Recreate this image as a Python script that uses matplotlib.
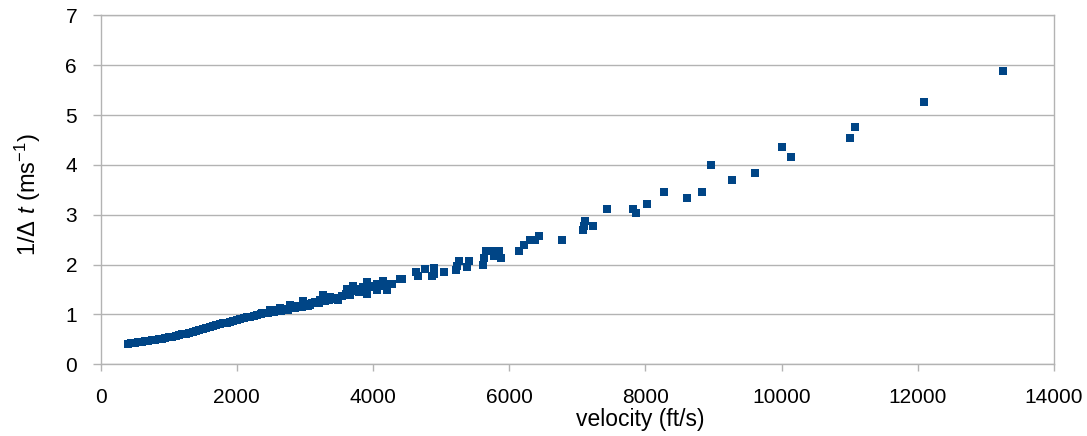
import numpy as np
import matplotlib
matplotlib.use("Agg")
import matplotlib.pyplot as plt

# ── Data ──────────────────────────────────────────────────────
# dense low-velocity band
v_dense = [400, 450, 500, 550, 600, 650, 700, 750, 800, 850, 900, 950,
           1000, 1050, 1100, 1150, 1200, 1250, 1300, 1350, 1400, 1450,
           1500, 1550, 1600, 1650, 1700, 1750, 1800, 1850, 1900, 1950,
           2000, 2050, 2100, 2150, 2200, 2250, 2300]
r_dense = [0.41, 0.42, 0.43, 0.44, 0.45, 0.46, 0.47, 0.48, 0.49, 0.50, 0.51, 0.525,
           0.54, 0.555, 0.57, 0.585, 0.60, 0.615, 0.635, 0.65, 0.67, 0.69,
           0.71, 0.73, 0.75, 0.765, 0.78, 0.80, 0.82, 0.835, 0.85, 0.87,
           0.89, 0.905, 0.92, 0.94, 0.955, 0.97, 0.99]

# scattered points, 2300-4400 ft/s
v_mid = [2350, 2364, 2400, 2450, 2486, 2500, 2550, 2600, 2633, 2650, 2700, 2750,
         2780, 2800, 2850, 2900, 2950, 2975, 3000, 3050, 3073, 3100, 3150, 3200,
         3220, 3269, 3300, 3350, 3367, 3400, 3450, 3489, 3550, 3600, 3612, 3661,
         3700, 3709, 3750, 3800, 3850, 3906, 3906, 3950, 4000, 4053, 4053, 4100,
         4150, 4200, 4224, 4273, 4395]
r_mid = [1.00, 1.02, 1.03, 1.02, 1.09, 1.05, 1.04, 1.08, 1.12, 1.07, 1.10, 1.09,
         1.19, 1.13, 1.12, 1.16, 1.14, 1.26, 1.20, 1.17, 1.19, 1.22, 1.25, 1.23,
         1.29, 1.39, 1.28, 1.30, 1.36, 1.32, 1.34, 1.29, 1.38, 1.42, 1.52, 1.39,
         1.47, 1.57, 1.52, 1.45, 1.56, 1.66, 1.42, 1.58, 1.55, 1.62, 1.49, 1.57,
         1.68, 1.49, 1.62, 1.62, 1.72]

# sparse high-velocity points
v_high = [4420, 4630, 4655, 4762, 4860, 4899, 4890, 5041, 5213, 5227, 5266, 5374,
          5413, 5614, 5628, 5658, 5780, 5780, 5853, 5874, 6142, 6221, 6304, 6377,
          6436, 6769, 7087, 7092, 7107, 7224, 7440, 7816, 7865, 8022, 8267, 8605,
          8825, 8962, 9266, 9608, 10000, 10141, 11007, 11081, 12089, 13244]
r_high = [1.72, 1.86, 1.77, 1.91, 1.77, 1.93, 1.81, 1.85, 1.89, 1.97, 2.07, 1.96,
          2.08, 2.00, 2.13, 2.27, 2.27, 2.17, 2.27, 2.13, 2.27, 2.39, 2.50, 2.50,
          2.57, 2.50, 2.69, 2.77, 2.87, 2.78, 3.12, 3.12, 3.03, 3.22, 3.45, 3.34,
          3.45, 4.00, 3.70, 3.84, 4.35, 4.16, 4.54, 4.76, 5.26, 5.88]

velocity = np.array(v_dense + v_mid + v_high, dtype=float)
inv_dt = np.array(r_dense + r_mid + r_high, dtype=float)

# ── Style ─────────────────────────────────────────────────────
plt.rcParams["font.family"] = ["Liberation Sans", "DejaVu Sans"]
plt.rcParams["mathtext.fontset"] = "custom"
plt.rcParams["mathtext.rm"] = "Liberation Sans"
plt.rcParams["mathtext.it"] = "Liberation Sans:italic"

grey = "#b3b3b3"
blue = "#004586"

fig = plt.figure(figsize=(10.87, 4.36), dpi=100)
ax = fig.add_axes([0.0926, 0.1644, 0.8771, 0.8005])

ax.scatter(velocity, inv_dt, marker="s", s=26, color=blue, linewidths=0, zorder=3)

ax.set_xlim(0, 14000)
ax.set_ylim(0, 7)
ax.set_xticks(np.arange(0, 14001, 2000))
ax.set_yticks(np.arange(0, 8, 1))

ax.grid(axis="y", color=grey, linewidth=1.0, zorder=0)
ax.set_axisbelow(True)
for sp in ax.spines.values():
    sp.set_color(grey)
    sp.set_linewidth(1.0)

ax.tick_params(axis="both", colors=grey, labelcolor="black", labelsize=15,
               direction="out", width=1.0)
ax.tick_params(axis="y", length=6, pad=11)
ax.tick_params(axis="x", length=5, pad=12)

ax.set_xlabel("velocity (ft/s)", fontsize=16.5, labelpad=0)
ax.xaxis.set_label_coords(0.566, -0.125)
ax.set_ylabel("1/Δ $t$ (ms$^{-1}$)", fontsize=17)
ax.yaxis.set_label_coords(-0.06, 0.487)

fig.savefig("out.png", dpi=100)
